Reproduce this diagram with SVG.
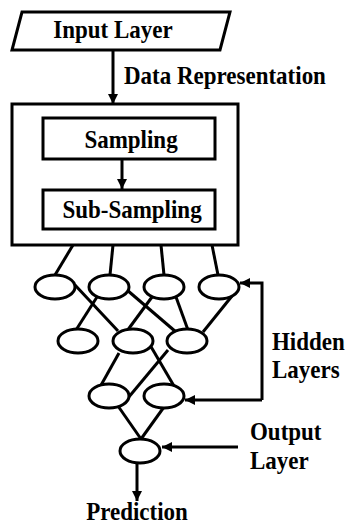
<svg xmlns="http://www.w3.org/2000/svg" width="346" height="525" viewBox="0 0 346 525">
<style>
.s{fill:none;stroke:#000;stroke-width:3}
.n{fill:#fff;stroke:#000;stroke-width:3}
.l{stroke:#000;stroke-width:3;fill:none}
text{font-family:"Liberation Serif","Times New Roman",serif;font-weight:bold;font-size:23px;fill:#000}
.c{text-anchor:middle}
</style>
<defs>
<marker id="ah" markerUnits="userSpaceOnUse" markerWidth="10" markerHeight="10" viewBox="0 0 10 10" refX="10" refY="5" orient="auto">
<path d="M0,0 L10,5 L0,10 Z" fill="#000"/>
</marker>
</defs>
<g id="connectors">
<line class="l" x1="113" y1="50" x2="113" y2="104" marker-end="url(#ah)"/>
<line class="l" x1="122" y1="159" x2="122" y2="189" marker-end="url(#ah)"/>
<line class="l" x1="73" y1="245" x2="55" y2="275"/>
<line class="l" x1="113" y1="245" x2="110" y2="275"/>
<line class="l" x1="161" y1="245" x2="164" y2="275"/>
<line class="l" x1="212" y1="245" x2="218" y2="275"/>
<line class="l" x1="75" y1="285" x2="118" y2="331"/>
<line class="l" x1="97" y1="297" x2="76" y2="330"/>
<line class="l" x1="127" y1="290" x2="176" y2="332"/>
<line class="l" x1="152" y1="297" x2="127" y2="331"/>
<line class="l" x1="176" y1="297" x2="188" y2="330"/>
<line class="l" x1="232" y1="296" x2="203" y2="332"/>
<line class="l" x1="119" y1="353" x2="100" y2="387"/>
<line class="l" x1="150" y1="345" x2="174" y2="386"/>
<line class="l" x1="168" y1="350" x2="128" y2="398"/>
<line class="l" x1="118" y1="406" x2="141" y2="439"/>
<line class="l" x1="164" y1="407" x2="141" y2="439"/>
<line class="l" x1="137" y1="463" x2="137" y2="501" marker-end="url(#ah)"/>
<polyline class="l" points="262,400 262,283 240,283" marker-end="url(#ah)"/>
<line class="l" x1="262" y1="400" x2="185" y2="400" marker-end="url(#ah)"/>
<line class="l" x1="238" y1="447" x2="162" y2="447" marker-end="url(#ah)"/>
</g>
<g id="input-layer">
<polygon class="n" points="22,12 230,12 220,50 12,50"/>
<text class="c" transform="translate(113,38) scale(1,1.1)">Input Layer</text>
</g>
<g id="data-representation-label">
<text transform="translate(124,84) scale(1,1.1)">Data Representation</text>
</g>
<g id="outer-box">
<rect class="s" x="12" y="104" width="226" height="141"/>
</g>
<g id="sampling">
<rect class="n" x="43" y="118" width="172" height="41"/>
<text class="c" transform="translate(131,148) scale(1,1.1)">Sampling</text>
</g>
<g id="sub-sampling">
<rect class="n" x="43" y="190" width="172" height="39"/>
<text class="c" transform="translate(132,218) scale(1,1.1)">Sub-Sampling</text>
</g>
<g id="h1a"><ellipse class="n" cx="55" cy="287" rx="20" ry="12"/></g>
<g id="h1b"><ellipse class="n" cx="109" cy="287" rx="20" ry="12"/></g>
<g id="h1c"><ellipse class="n" cx="164" cy="287" rx="20" ry="12"/></g>
<g id="h1d"><ellipse class="n" cx="219" cy="287" rx="20" ry="12"/></g>
<g id="h2a"><ellipse class="n" cx="78" cy="341" rx="20" ry="12"/></g>
<g id="h2b"><ellipse class="n" cx="133" cy="341" rx="20" ry="12"/></g>
<g id="h2c"><ellipse class="n" cx="187" cy="341" rx="20" ry="12"/></g>
<g id="h3a"><ellipse class="n" cx="109" cy="396" rx="20" ry="12"/></g>
<g id="h3b"><ellipse class="n" cx="164" cy="396" rx="20" ry="12"/></g>
<g id="output"><ellipse class="n" cx="140" cy="451" rx="20" ry="12"/></g>
<g id="hidden-label">
<text transform="translate(272,350) scale(1,1.1)">Hidden</text>
<text transform="translate(272,378) scale(1,1.1)">Layers</text>
</g>
<g id="output-label">
<text transform="translate(250,440) scale(1,1.1)">Output</text>
<text transform="translate(250,469) scale(1,1.1)">Layer</text>
</g>
<g id="prediction">
<text class="c" transform="translate(137,520) scale(1,1.1)">Prediction</text>
</g>
</svg>
